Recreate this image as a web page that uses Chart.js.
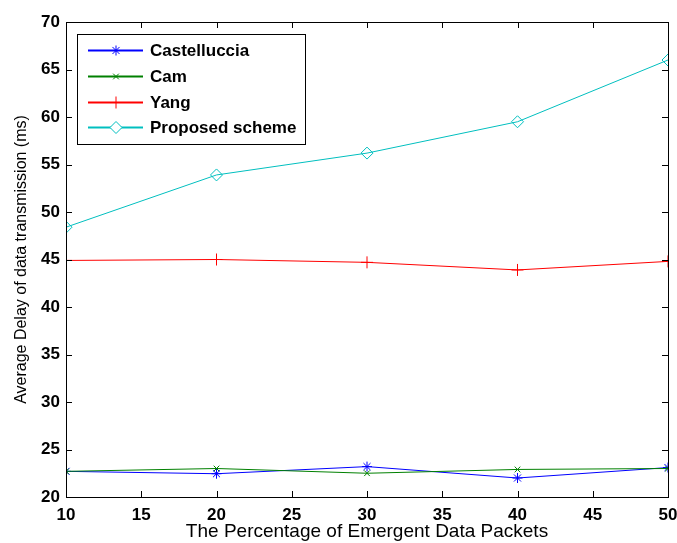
<!DOCTYPE html>
<html>
<head>
<meta charset="utf-8">
<script src="https://cdn.jsdelivr.net/npm/chart.js@4.4.1/dist/chart.umd.min.js"></script>
<style>
  html, body { margin: 0; padding: 0; background: #fff; }
  #wrap { width: 677px; height: 543px; }
</style>
</head>
<body>
<div id="wrap"><canvas id="delayChart" width="677" height="543"></canvas></div>
<script>
// --- data ---
const xValues = [10, 20, 30, 40, 50];
const castelluccia = [22.7, 22.45, 23.2, 22.0, 23.1];
const cam = [22.7, 23.0, 22.5, 22.9, 23.0];
const yang = [44.9, 45.0, 44.7, 43.9, 44.8];
const proposed = [48.4, 53.9, 56.2, 59.5, 66.0];
const seriesNames = ['Castelluccia', 'Cam', 'Yang', 'Proposed scheme'];
const xTitle = 'The Percentage of Emergent Data Packets';
const yTitle = 'Average Delay of data transmission (ms)';

const FONT = '"Liberation Sans", Arial, sans-serif';
const toPts = (arr) => arr.map((v, i) => ({ x: xValues[i], y: v }));

function makeSet(label, vals, color, style, radius, order) {
    return {
        label: label,
        data: toPts(vals),
        borderColor: color,
        backgroundColor: 'rgba(0,0,0,0)',
        pointBorderColor: color,
        pointBackgroundColor: 'rgba(0,0,0,0)',
        borderWidth: 1,
        pointBorderWidth: 1,
        pointStyle: style,
        pointRadius: radius,
        pointHoverRadius: radius,
        tension: 0,
        order: order
    };
}

// MATLAB style box with inward ticks + legend inside the axes
const matlabBox = {
    id: 'matlabBox',
    afterDraw(chart) {
        const { ctx, chartArea: a, scales } = chart;
        ctx.save();
        ctx.strokeStyle = '#000';
        ctx.lineWidth = 1;
        ctx.strokeRect(Math.round(a.left) + 0.5, Math.round(a.top) + 0.5,
            Math.round(a.right - a.left), Math.round(a.bottom - a.top));
        const tl = 6;
        ctx.beginPath();
        scales.x.ticks.forEach(t => {
            const px = Math.round(scales.x.getPixelForValue(t.value)) + 0.5;
            ctx.moveTo(px, a.bottom); ctx.lineTo(px, a.bottom - tl);
            ctx.moveTo(px, a.top); ctx.lineTo(px, a.top + tl);
        });
        scales.y.ticks.forEach(t => {
            const py = Math.round(scales.y.getPixelForValue(t.value)) + 0.5;
            ctx.moveTo(a.left, py); ctx.lineTo(a.left + tl, py);
            ctx.moveTo(a.right, py); ctx.lineTo(a.right - tl, py);
        });
        ctx.stroke();

        // legend
        const bx = 77.5, by = 34.5, bw = 228, bh = 110;
        ctx.fillStyle = '#fff';
        ctx.fillRect(bx, by, bw, bh);
        ctx.strokeRect(bx, by, bw, bh);
        ctx.font = 'bold 17px ' + FONT;
        ctx.textBaseline = 'middle';
        const sets = [0, 1, 2, 3].map(i => chart.data.datasets[i]);
        sets.forEach((ds, i) => {
            const yy = Math.round(50 + i * 25.8) + 0.5;
            ctx.strokeStyle = ds.borderColor;
            ctx.lineWidth = 2;
            ctx.beginPath();
            ctx.moveTo(88, yy); ctx.lineTo(143, yy);
            ctx.stroke();
            ctx.lineWidth = 1;
            ctx.fillStyle = '#fff';
            Chart.helpers.drawPoint(ctx, {
                pointStyle: ds.pointStyle, rotation: 0, radius: ds.pointRadius,
                borderWidth: 1
            }, 116, yy);
            ctx.fillStyle = '#000';
            ctx.fillText(ds.label, 150, yy + 1);
        });
        ctx.restore();
    }
};

const ctx = document.getElementById('delayChart').getContext('2d');
new Chart(ctx, {
    type: 'line',
    data: {
        datasets: [
            makeSet(seriesNames[0], castelluccia, '#0000ff', 'star', 5, 2),
            makeSet(seriesNames[1], cam, '#008000', 'crossRot', 4, 1),
            makeSet(seriesNames[2], yang, '#ff0000', 'cross', 6, 3),
            makeSet(seriesNames[3], proposed, '#00bfbf', 'rectRot', 6, 4)
        ]
    },
    options: {
        responsive: false,
        animation: false,
        devicePixelRatio: 1,
        layout: { padding: { top: 22, right: 9, left: 0, bottom: 0 } },
        plugins: { legend: { display: false }, tooltip: { enabled: false } },
        scales: {
            x: {
                type: 'linear', min: 10, max: 50,
                grid: { display: false, drawTicks: false },
                border: { display: false },
                ticks: { stepSize: 5, color: '#000', padding: 8,
                    font: { family: FONT, size: 17, weight: 'bold' } },
                title: { display: true, text: xTitle, color: '#000',
                    font: { family: FONT, size: 19 }, padding: { top: 0, bottom: 0 } },
                afterFit: (s) => { s.height = 46; s.paddingRight = 0; s.paddingLeft = 0; }
            },
            y: {
                type: 'linear', min: 20, max: 70,
                grid: { display: false, drawTicks: false },
                border: { display: false },
                ticks: { stepSize: 5, color: '#000', padding: 6,
                    font: { family: FONT, size: 17, weight: 'bold' } },
                title: { display: true, text: yTitle, color: '#000',
                    font: { family: FONT, size: 16 }, padding: { top: 12, bottom: 0 } },
                afterFit: (s) => { s.width = 66; s.paddingTop = 0; s.paddingBottom = 0; }
            }
        }
    },
    plugins: [matlabBox]
});
</script>
</body>
</html>
